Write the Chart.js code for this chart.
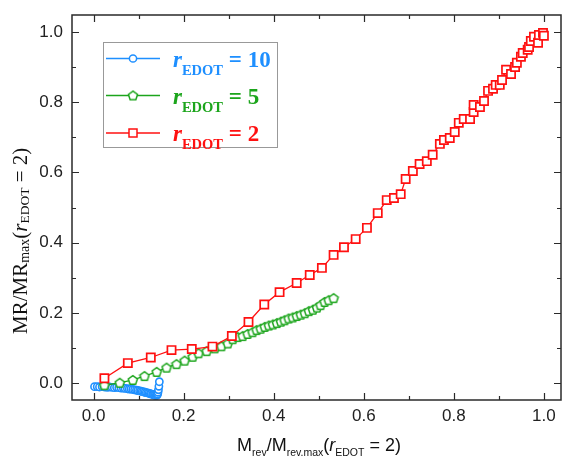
<!DOCTYPE html>
<html>
<head>
<meta charset="utf-8">
<script src="https://cdn.jsdelivr.net/npm/chart.js@4.4.1/dist/chart.umd.min.js"></script>
<style>
  html, body { margin: 0; padding: 0; background: #fff; }
  #chart { display: block; }
</style>
</head>
<body>
<canvas id="chart" width="562" height="458"></canvas>
<script>
// Tick positions and labels
const xTickValues = [0, 0.2, 0.4, 0.6, 0.8, 1.0];
const xTickLabels = ['0.0', '0.2', '0.4', '0.6', '0.8', '1.0'];
const yTickValues = [0, 0.2, 0.4, 0.6, 0.8, 1.0];
const yTickLabels = ['0.0', '0.2', '0.4', '0.6', '0.8', '1.0'];
const minorTickValues = [0.1, 0.3, 0.5, 0.7, 0.9];

// r_EDOT = 10
const blueX = [0.002, 0.008, 0.013, 0.019, 0.024, 0.030, 0.035, 0.041, 0.046, 0.051, 0.056, 0.061, 0.066, 0.070,
  0.075, 0.079, 0.083, 0.087, 0.091, 0.095, 0.098, 0.102, 0.105, 0.108, 0.111, 0.114, 0.117, 0.120,
  0.123, 0.126, 0.128, 0.131, 0.133, 0.135, 0.137, 0.139, 0.141, 0.142, 0.143, 0.144, 0.145, 0.146];
const blueY = [-0.010, -0.010, -0.011, -0.010, -0.011, -0.012, -0.011, -0.012, -0.013, -0.012, -0.013, -0.014, -0.014, -0.015,
  -0.016, -0.017, -0.017, -0.018, -0.019, -0.020, -0.021, -0.022, -0.023, -0.024, -0.025, -0.026, -0.027, -0.028,
  -0.029, -0.030, -0.031, -0.032, -0.033, -0.034, -0.034, -0.035, -0.034, -0.031, -0.026, -0.019, -0.009, 0.004];

// r_EDOT = 5
const greenX = [0.024, 0.058, 0.087, 0.113, 0.140, 0.162, 0.184, 0.202, 0.220, 0.233, 0.251, 0.269, 0.284, 0.298,
  0.309, 0.320, 0.331, 0.342, 0.353, 0.362, 0.371, 0.380, 0.389, 0.398, 0.407, 0.416, 0.424, 0.433,
  0.442, 0.451, 0.460, 0.469, 0.478, 0.487, 0.496, 0.504, 0.513, 0.522, 0.533];
const greenY = [-0.006, 0.001, 0.009, 0.020, 0.032, 0.044, 0.054, 0.064, 0.075, 0.085, 0.091, 0.099, 0.105, 0.113,
  0.125, 0.131, 0.134, 0.140, 0.145, 0.151, 0.155, 0.160, 0.164, 0.167, 0.171, 0.175, 0.179, 0.184,
  0.187, 0.191, 0.195, 0.199, 0.205, 0.209, 0.215, 0.222, 0.231, 0.236, 0.242];

// r_EDOT = 2
const redX = [0.024, 0.076, 0.127, 0.173, 0.218, 0.264, 0.307, 0.344, 0.379, 0.413, 0.451, 0.480, 0.507, 0.533,
  0.556, 0.582, 0.607, 0.631, 0.651, 0.667, 0.682, 0.693, 0.709, 0.724, 0.740, 0.753, 0.769, 0.778,
  0.791, 0.802, 0.811, 0.822, 0.836, 0.844, 0.844, 0.858, 0.867, 0.876, 0.887, 0.893, 0.902, 0.907,
  0.916, 0.927, 0.936, 0.940, 0.949, 0.953, 0.964, 0.967, 0.971, 0.978, 0.987, 0.989, 0.998, 1.000];
const redY = [0.014, 0.057, 0.073, 0.094, 0.097, 0.104, 0.134, 0.174, 0.224, 0.259, 0.285, 0.308, 0.328, 0.365,
  0.387, 0.410, 0.442, 0.484, 0.521, 0.527, 0.538, 0.581, 0.604, 0.624, 0.632, 0.650, 0.681, 0.692,
  0.698, 0.715, 0.741, 0.752, 0.752, 0.772, 0.792, 0.786, 0.803, 0.832, 0.838, 0.849, 0.849, 0.863,
  0.892, 0.880, 0.900, 0.912, 0.929, 0.940, 0.949, 0.957, 0.974, 0.986, 0.969, 0.991, 0.997, 0.989];

const legendValues = ['= 10', '= 5', '= 2'];

const BLUE = '#1e8fff';
const GREEN = '#1ca51c';
const RED = '#ff1010';

const SANS = "'Liberation Sans', Arial, sans-serif";
const SERIF = "'Liberation Serif', 'Times New Roman', serif";

function toPoints(xs, ys) {
  return xs.map((x, i) => ({ x: x, y: ys[i] }));
}

// Pentagon marker for the green series
function pentagon(size, color) {
  const c = document.createElement('canvas');
  c.width = size; c.height = size;
  const g = c.getContext('2d');
  const r = size / 2 - 1.2;
  g.beginPath();
  for (let k = 0; k < 5; k++) {
    const a = -Math.PI / 2 + k * 2 * Math.PI / 5;
    const px = size / 2 + r * Math.cos(a);
    const py = size / 2 + 0.4 + r * Math.sin(a);
    if (k === 0) g.moveTo(px, py); else g.lineTo(px, py);
  }
  g.closePath();
  g.fillStyle = '#fff';
  g.fill();
  g.lineWidth = 1.5;
  g.strokeStyle = color;
  g.stroke();
  return c;
}
const pentaMarker = pentagon(12, GREEN);

// Draw text made of pieces (subscripts, italics) one after another
function drawParts(ctx, x, y, parts) {
  parts.forEach(p => {
    ctx.font = p.font;
    ctx.fillText(p.t, x, y + (p.dy || 0));
    x += ctx.measureText(p.t).width;
  });
  return x;
}
function partsWidth(ctx, parts) {
  let w = 0;
  parts.forEach(p => { ctx.font = p.font; w += ctx.measureText(p.t).width; });
  return w;
}

const framePlugin = {
  id: 'frame',
  afterDraw(chart) {
    const { ctx, chartArea: a, scales: { x, y } } = chart;
    ctx.save();

    // box and inward ticks on all four sides
    ctx.strokeStyle = '#2a2a2a';
    ctx.lineWidth = 1.5;
    ctx.strokeRect(a.left, a.top, a.right - a.left, a.bottom - a.top);
    ctx.lineWidth = 1.2;
    const ticks = (vals, len) => {
      vals.forEach(v => {
        const px = Math.round(x.getPixelForValue(v)) + 0.5;
        const py = Math.round(y.getPixelForValue(v)) + 0.5;
        ctx.beginPath();
        ctx.moveTo(px, a.bottom); ctx.lineTo(px, a.bottom - len);
        ctx.moveTo(px, a.top); ctx.lineTo(px, a.top + len);
        ctx.moveTo(a.left, py); ctx.lineTo(a.left + len, py);
        ctx.moveTo(a.right, py); ctx.lineTo(a.right - len, py);
        ctx.stroke();
      });
    };
    ticks(xTickValues, 7);
    ticks(minorTickValues, 4);

    // x axis title
    ctx.fillStyle = '#111';
    ctx.textBaseline = 'alphabetic';
    ctx.textAlign = 'left';
    const xt = [
      { t: 'M', font: '18px ' + SANS },
      { t: 'rev', font: '10.5px ' + SANS, dy: 5 },
      { t: '/M', font: '18px ' + SANS },
      { t: 'rev.max', font: '10.5px ' + SANS, dy: 5 },
      { t: '(', font: '18px ' + SANS },
      { t: 'r', font: 'italic 18px ' + SANS },
      { t: 'EDOT', font: '10.5px ' + SANS, dy: 5 },
      { t: ' = 2)', font: '18px ' + SANS }
    ];
    const xw = partsWidth(ctx, xt);
    drawParts(ctx, 319 - xw / 2, 451, xt);

    // y axis title, rotated
    ctx.save();
    ctx.translate(27, 334);
    ctx.rotate(-Math.PI / 2);
    drawParts(ctx, 0, 0, [
      { t: 'MR/MR', font: '21px ' + SERIF },
      { t: 'max', font: '14px ' + SERIF, dy: 2 },
      { t: '(', font: '21px ' + SERIF },
      { t: 'r', font: 'italic 21px ' + SERIF },
      { t: 'EDOT', font: '13.5px ' + SERIF, dy: 2 },
      { t: ' = 2)', font: '21px ' + SERIF }
    ]);
    ctx.restore();

    // legend
    const lx = 103, ly = 42, lw = 174, lh = 105;
    ctx.fillStyle = '#fff';
    ctx.fillRect(lx, ly, lw, lh);
    ctx.strokeStyle = '#999';
    ctx.lineWidth = 1;
    ctx.strokeRect(lx + 0.5, ly + 0.5, lw, lh);
    const colors = [BLUE, GREEN, RED];
    const rows = [58.5, 95.5, 133];
    rows.forEach((ry, i) => {
      ctx.strokeStyle = colors[i];
      ctx.lineWidth = 1.3;
      ctx.beginPath();
      ctx.moveTo(106, ry); ctx.lineTo(160, ry);
      ctx.stroke();
      ctx.fillStyle = '#fff';
      ctx.lineWidth = 1.5;
      if (i === 0) {
        ctx.beginPath(); ctx.arc(133, ry, 3.6, 0, Math.PI * 2); ctx.fill(); ctx.stroke();
      } else if (i === 1) {
        ctx.drawImage(pentaMarker, 133 - 6, ry - 6);
      } else {
        ctx.fillRect(129, ry - 4, 8, 8); ctx.strokeRect(129, ry - 4, 8, 8);
      }
      ctx.fillStyle = colors[i];
      drawParts(ctx, 173, ry + 8, [
        { t: 'r', font: 'italic bold 23px ' + SERIF },
        { t: 'EDOT', font: 'bold 14.5px ' + SERIF, dy: 8 },
        { t: ' ' + legendValues[i], font: 'bold 23px ' + SERIF }
      ]);
    });

    ctx.restore();
  }
};

const tickFont = { family: SANS, size: 17 };

new Chart(document.getElementById('chart'), {
  type: 'scatter',
  data: {
    datasets: [
      {
        data: toPoints(redX, redY),
        showLine: true,
        borderColor: RED,
        borderWidth: 1.3,
        pointStyle: 'rect',
        pointRadius: 5.8,
        pointBorderWidth: 1.7,
        pointBorderColor: RED,
        pointBackgroundColor: '#fff'
      },
      {
        data: toPoints(greenX, greenY),
        showLine: true,
        borderColor: GREEN,
        borderWidth: 1.3,
        pointStyle: pentaMarker,
        pointRadius: 5
      },
      {
        data: toPoints(blueX, blueY),
        showLine: true,
        borderColor: BLUE,
        borderWidth: 1.3,
        pointStyle: 'circle',
        pointRadius: 3.6,
        pointBorderWidth: 1.6,
        pointBorderColor: BLUE,
        pointBackgroundColor: '#fff'
      }
    ]
  },
  options: {
    responsive: false,
    animation: false,
    layout: { autoPadding: false, padding: { left: 0, right: 1, top: 15, bottom: 0 } },
    plugins: { legend: { display: false }, tooltip: { enabled: false } },
    scales: {
      x: {
        type: 'linear',
        min: -0.048,
        max: 1.038,
        grid: { display: false, drawTicks: false },
        border: { display: false },
        afterBuildTicks: s => { s.ticks = xTickValues.map(v => ({ value: v })); },
        afterFit: s => { s.height = 58; s.paddingLeft = 0; s.paddingRight = 0; },
        ticks: {
          padding: 6,
          font: tickFont,
          color: '#222',
          maxRotation: 0,
          callback: (v, i) => xTickLabels[i]
        }
      },
      y: {
        type: 'linear',
        min: -0.048,
        max: 1.048,
        grid: { display: false, drawTicks: false },
        border: { display: false },
        afterBuildTicks: s => { s.ticks = yTickValues.map(v => ({ value: v })); },
        afterFit: s => { s.width = 72; s.paddingTop = 0; s.paddingBottom = 0; },
        ticks: {
          padding: 9,
          font: tickFont,
          color: '#222',
          callback: (v, i) => yTickLabels[i]
        }
      }
    }
  },
  plugins: [framePlugin]
});
</script>
</body>
</html>
